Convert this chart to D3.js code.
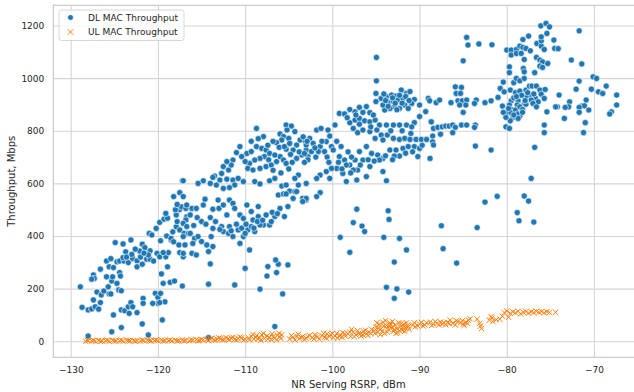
<!DOCTYPE html>
<html>
<head>
<meta charset="utf-8">
<script src="https://cdn.jsdelivr.net/npm/d3@7"></script>
<style>
body { margin: 0; background: #fff; }
text { font-family: "DejaVu Sans", sans-serif; fill: #262626; }
</style>
</head>
<body>
<div id="chart"></div>
<script>
// [RSRP dBm, Mbps]
const dlPoints = [
[-117.2,610],[-117.5,565],[-118.2,550],[-128.9,207],[-128.7,129],[-128.0,119],[-127.6,123],[-127.2,131],[-126.8,122],[-127.4,157],[-126.6,147],[-127.0,187],[-126.5,176],[-126.2,191],[-125.6,180],[-125.4,180],[-125.7,207],[-125.3,229],[-125.9,245],[-125.2,245],[-126.6,274],[-127.4,252],[-127.3,239],[-127.6,236],[-125.9,305],[-125.4,314],[-125.6,283],[-125.1,280],[-124.7,302],[-124.4,305],[-123.9,305],[-124.4,261],[-124.3,248],[-124.7,220],[-124.5,195],[-124.2,192],[-124.9,375],[-124.0,370],[-123.1,385],[-123.7,340],[-124.0,318],[-123.4,299],[-122.9,315],[-122.4,306],[-122.4,283],[-121.8,293],[-122.1,343],[-121.8,369],[-121.5,356],[-121.3,312],[-120.9,312],[-120.5,305],[-120.9,344],[-121.1,328],[-121.0,410],[-120.7,404],[-120.2,429],[-119.8,452],[-119.3,464],[-118.9,468],[-119.1,486],[-119.7,382],[-119.0,400],[-118.5,385],[-118.3,416],[-120.1,334],[-119.8,321],[-119.1,321],[-118.8,337],[-119.4,337],[-118.9,283],[-119.6,256],[-119.4,220],[-118.6,224],[-118.1,229],[-120.3,182],[-120.0,167],[-119.7,182],[-120.0,144],[-119.2,150],[-119.8,147],[-121.7,163],[-121.7,144],[-120.6,144],[-125.1,100],[-124.2,119],[-123.8,116],[-123.4,131],[-123.1,147],[-122.9,131],[-123.3,106],[-122.4,109],[-121.8,66],[-125.3,36],[-124.2,52],[-121.1,24],[-119.5,81],[-128.0,20],[-117.9,480],[-117.5,501],[-117.3,511],[-116.8,505],[-116.7,473],[-117.9,435],[-117.5,423],[-117.0,410],[-116.5,410],[-116.8,461],[-117.1,448],[-118.5,391],[-118.2,378],[-117.6,366],[-117.5,337],[-117.1,321],
[-123.0,330],[-122.6,350],[-122.0,320],[-121.6,335],[-123.6,320],
[-116.3,480],[-115.5,470],[-115.0,455],[-114.5,445],[-114.0,470],[-113.4,455],[-115.9,440],[-117.8,455],[-118.0,500],[-117.8,520],
[-108.7,809],[-107.9,778],[-105.3,822],[-104.7,818],[-105.2,803],[-104.3,797],[-106.0,788],[-105.6,778],[-105.0,771],[-105.8,765],[-104.9,752],[-104.1,746],[-103.7,765],[-103.1,759],[-106.4,755],[-106.1,737],[-105.3,730],[-104.5,727],[-103.0,727],[-103.5,708],[-102.8,702],[-104.1,695],
[-110.6,740],[-111.0,717],[-109.8,714],[-109.3,721],[-108.7,740],[-108.1,733],[-107.6,727],[-107.2,714],[-107.8,702],[-108.3,695],[-108.9,689],[-109.5,676],[-110.0,683],[-110.4,702],[-109.7,657],[-109.1,651],[-108.3,657],[-107.6,664],[-107.0,670],[-106.4,683],[-106.0,702],[-106.6,708],[-105.6,689],[-105.3,676],
[-107.3,690],[-106.8,650],[-105.9,640],[-105.0,655],[-104.6,680],[-103.8,720],[-104.8,710],[-105.5,740],[-106.8,760],[-107.4,745],[-108.5,770],[-109.3,760],
[-112.5,664],[-111.9,651],[-111.4,689],[-111.6,670],[-112.1,683],[-112.7,638],[-113.5,628],[-113.7,623],[-112.9,613],[-112.1,616],[-111.4,613],[-110.8,619],[-110.2,607],[-111.2,594],[-111.8,584],[-112.5,581],[-113.3,594],[-114.0,600],[-114.8,610],[-115.4,600],[-117.1,610],
[-108.9,607],[-108.3,598],[-107.2,610],[-106.6,619],[-105.8,590],[-105.3,594],[-104.9,571],[-104.3,569],[-103.9,594],[-103.0,600],[-103.9,632],[-104.3,619],
[-117.1,550],[-116.7,518],[-116.1,505],[-115.6,505],[-114.8,518],[-114.6,540],[-113.7,502],[-113.0,505],[-112.5,518],[-113.1,537],[-112.1,480],[-111.8,537],[-111.4,524],[-111.2,505],[-110.6,480],[-110.2,467],[-109.8,518],[-109.3,493],[-108.5,512],[-109.1,461],[-108.5,474],[-107.9,442],[-107.6,480],[-107.2,442],[-106.6,474],[-106.0,505],[-105.5,474],[-105.1,512],[-104.5,543],[-104.1,569],[-103.4,543],[-103.0,537],[-106.2,556],[-105.6,560],[-105.3,560],
[-116.7,436],[-117.1,398],[-116.3,410],[-115.8,391],[-115.4,398],[-115.0,379],[-116.0,372],[-116.9,366],[-117.1,334],[-116.1,334],[-115.6,328],[-114.4,366],[-113.7,360],[-114.2,341],[-113.9,398],[-113.7,429],[-112.7,436],[-112.5,417],[-111.9,410],[-111.8,436],[-111.4,398],[-110.8,423],[-110.2,398],[-109.7,423],[-109.3,436],[-108.9,417],[-108.3,442],[-110.6,372],[-109.5,347],[-110.0,277],[-107.4,284],[-106.4,261],[-106.2,293],[-106.5,309],[-105.1,290],[-107.5,248],[-114.0,294],[-114.2,217],[-111.2,214],[-117.2,210],[-108.3,198],[-105.7,180],[-106.6,56],[-114.2,14],
[-111.0,445],[-110.4,430],[-109.9,445],[-109.0,430],[-108.6,455],[-112.9,425],[-111.6,420],[-110.0,410],[-108.0,460],[-107.0,455],[-106.9,490],[-106.3,485],
[-94.95,1079],[-94.95,990],[-95.0,942],[-95.0,911],
[-94.4,923],[-93.8,930],[-93.2,936],[-92.7,932],[-92.1,955],[-91.5,942],[-91.1,949],[-90.6,919],[-90.9,904],[-91.7,898],[-92.3,885],[-92.9,892],[-93.4,885],[-94.0,879],[-93.6,907],[-93.0,911],[-92.5,917],[-91.9,923],[-91.3,885],[-94.2,898],
[-93.9,915],[-93.1,925],[-92.3,935],[-91.6,930],[-92.8,905],[-92.0,905],[-91.2,915],[-93.6,893],[-92.6,880],[-94.1,940],
[-89.0,923],[-90.0,898],[-89.3,873],[-90.0,854],[-90.6,831],[-88.7,835],
[-99.2,866],[-98.6,864],[-98.0,881],[-97.4,872],[-96.9,889],[-96.1,892],[-95.7,869],[-98.0,831],[-97.4,841],[-96.9,847],[-96.3,838],[-95.7,834],[-95.1,841],[-94.6,822],[-93.8,822],[-93.0,822],[-92.3,822],[-91.5,822],[-90.9,815],[-97.6,809],[-97.1,793],[-96.5,803],[-95.7,797],[-94.9,803],[-94.4,784],[-93.7,784],[-93.0,771],[-92.3,767],[-91.7,771],[-91.1,767],[-90.4,767],[-89.8,767],[-89.2,767],[-94.2,765],[-95.1,771],
[-103.35,777],[-102.6,771],[-101.8,803],[-101.3,809],[-100.5,803],[-99.7,822],[-103.0,746],[-102.2,752],[-101.4,740],[-100.7,759],[-100.1,740],[-103.2,714],[-102.4,721],[-101.6,721],[-100.9,721],[-99.9,727],[-99.2,702],[-98.6,689],[-98.0,670],[-97.4,689],[-96.9,721],[-96.1,740],[-95.5,714],[-94.8,708],[-94.2,695],[-93.4,727],[-92.7,727],[-91.9,733],[-91.3,740],[-90.6,740],[-90.0,733],[-90.2,702],[-92.3,704],[-92.9,704],[-94.6,689],[-95.7,664],[-96.5,689],[-97.1,651],[-97.6,651],[-98.4,670],[-98.8,638],[-99.5,657],[-100.1,657],[-100.7,645],[-101.4,632],[-101.8,619],[-100.3,619],[-98.4,607],[-97.2,613],[-96.1,626],[-94.2,645],[-93.8,610],
[-102.9,760],[-102.0,735],[-101.2,760],[-100.3,780],[-99.5,760],[-99.0,740],[-98.2,720],[-97.8,700],[-100.6,700],[-101.9,700],[-102.8,690],[-103.2,680],[-100.4,680],[-99.3,680],[-98.9,655],[-97.9,640],[-96.8,670],[-95.9,690],[-95.2,685],[-93.9,705],[-93.1,690],[-91.6,715],[-90.8,720],[-89.7,745],[-91.0,790],[-92.0,800],[-93.3,800],[-95.6,815],[-96.9,825],[-98.3,850],[-97.3,860],[-96.5,870],[-95.3,860],
[-101.4,565],[-101.8,550],[-103.0,543],[-103.4,531],[-97.2,502],[-97.6,451],[-96.6,438],[-96.3,417],[-93.6,496],[-93.5,463],[-99.1,395],[-94.1,395],[-92.3,391],
[-98.0,338],[-91.5,347],[-92.9,301],[-93.8,205],[-92.6,199],[-92.9,163],[-91.25,187],
[-84.6,1155],[-84.45,1126],[-83.2,1130],[-81.7,1127],[-85.0,1066],
[-88.84,914],[-88.1,907],[-87.7,917],[-86.4,907],[-85.9,967],[-85.2,965],[-85.8,942],[-85.3,942],[-85.6,914],[-85.1,914],[-84.6,917],[-83.5,917],[-83.7,904],[-84.7,898],[-85.4,898],[-85.0,870],[-82.5,907],[-81.8,914],[-80.5,894],[-81.0,927],
[-88.65,834],[-88.4,809],[-87.9,813],[-87.4,815],[-87.0,818],[-86.6,818],[-86.2,822],[-85.9,813],[-85.2,822],[-84.6,822],[-83.6,822],[-83.7,813],[-87.6,787],[-86.2,793],[-88.5,780],[-88.5,758],[-88.4,746],[-88.8,695],[-83.6,742],[-81.8,727],
[-80.0,1107],[-79.5,1107],[-78.9,1109],[-78.5,1122],[-78.15,1117],[-77.8,1113],[-77.3,1104],[-79.5,1088],[-78.9,1094],[-78.35,1094],[-78.0,1071],[-78.15,1147],[-77.5,1160],[-76.55,1132],[-76.05,1122],[-75.7,1109],[-76.6,1079],[-76.2,1069],[-75.9,1062],[-76.1,1199],[-75.5,1208],[-75.1,1195],[-75.4,1170],[-76.05,1142],[-76.05,1157],[-74.6,1145],[-74.5,1113],[-74.1,1112],[-76.2,1046],[-75.3,1056],[-75.9,1041],[-78.1,1037],[-76.8,1021],[-79.7,1043],[-79.7,1021],[-79.2,983],[-78.9,999],[-78.5,990],[-78.0,1024],[-78.0,999],[-80.4,985],[-80.75,961],[-80.3,948],[-79.6,955],[-79.0,945],[-78.5,951],[-77.8,955],[-77.4,970],[-77.1,970],[-76.6,970],[-76.2,955],[-75.6,957],[-76.05,939],[-75.7,923],[-76.7,923],[-77.4,936],[-77.8,929],[-76.4,910],[-77.2,917],[-77.0,904],[-78.0,901],[-78.7,914],[-78.8,898],[-79.5,914],[-79.7,898],[-79.5,881],[-79.9,869],[-79.5,869],[-79.0,879],[-78.5,891],[-78.2,881],[-77.8,901],[-78.5,856],[-78.8,864],[-79.3,851],[-79.6,838],[-80.1,851],[-78.7,847],[-80.1,815],[-79.7,809],[-76.6,891],[-75.4,872],[-75.7,822],[-75.7,793],[-76.8,737],
[-79.2,925],[-78.3,935],[-77.6,945],[-76.9,940],[-78.9,930],[-77.9,915],[-79.2,860],[-78.2,870],[-80.4,870],[-79.8,885],
[-71.7,1180],[-72.6,1069],[-71.4,1054],[-70.1,1005],[-69.7,999],[-71.7,989],[-72.05,958],[-70.3,958],[-70.9,917],[-71.4,894],[-71.1,895],[-71.7,889],[-71.7,870],[-72.8,910],[-72.9,891],[-73.3,889],[-74.0,936],[-74.2,891],[-74.4,891],[-73.4,847],[-70.6,879],[-71.0,831],[-71.2,793],[-69.5,948],[-69.0,942],[-68.6,970],[-67.4,936],[-67.4,898],[-68.0,872],[-68.2,864],
[-87.5,439],[-87.3,352],[-85.75,297],[-83.4,432],[-82.5,529],[-81.1,551],[-78.8,489],[-78.6,458],[-78.0,552],[-77.5,533],[-76.9,453],[-77.2,619]
];

const ulPoints = [
[-128.3,0],[-128.0,2],[-127.6,1],[-127.2,0],[-126.8,3],[-126.4,1],[-126.0,2],[-125.6,0],[-125.2,3],[-124.8,1],[-124.4,2],[-124.0,0],[-123.6,4],[-123.2,1],[-122.8,2],[-122.4,3],[-122.0,1],[-121.6,2],[-121.2,4],[-120.8,1],[-120.4,3],[-120.0,2],[-119.6,5],[-119.2,2],[-118.8,3],[-118.4,1],[-118.0,4],[-117.6,2],[-117.2,5],[-116.8,3],[-116.4,2],[-116.0,4],[-115.6,6],[-115.2,3],[-114.8,5],
[-128.1,4],[-127.4,3],[-126.6,0],[-125.8,4],[-125.0,1],[-124.2,4],[-123.4,2],[-122.6,0],[-121.8,4],[-121.0,2],[-120.2,5],[-119.4,1],[-118.6,5],[-117.8,1],[-117.0,2],[-116.2,6],[-115.4,2],[-115.0,7],
[-114.4,6],[-114.0,9],[-113.6,5],[-113.2,8],[-112.8,10],[-112.4,6],[-112.0,9],[-111.6,12],[-111.2,7],[-110.8,10],[-110.4,13],[-110.0,8],
[-114.2,3],[-113.8,12],[-113.4,4],[-113.0,13],[-112.6,5],[-112.2,14],[-111.8,6],[-111.4,15],[-111.0,5],[-110.6,16],[-110.2,4],
[-109.6,12],[-109.3,18],[-109.0,9],[-108.7,22],[-108.4,14],[-108.1,25],[-107.8,10],[-107.5,20],[-107.2,15],[-106.9,28],[-106.6,12],[-106.3,22],[-106.0,18],[-105.8,25],[-108.5,8],[-107.0,6],
[-109.5,5],[-109.1,26],[-108.8,15],[-108.2,5],[-107.9,30],[-107.4,8],[-106.8,18],[-106.4,5],[-106.1,30],[-105.9,10],
[-104.9,8],[-104.5,15],[-104.1,20],[-103.8,10],[-103.4,18],[-103.0,12],[-102.6,22],[-102.3,14],[-102.0,25],[-101.7,16],[-101.5,8],
[-104.7,22],[-104.3,5],[-103.9,26],[-103.6,14],[-103.2,6],[-102.8,18],[-102.1,8],[-101.9,20],
[-101.2,22],[-100.9,15],[-100.6,28],[-100.3,18],[-100.0,30],[-99.7,20],[-99.4,12],[-99.1,25],[-98.8,33],[-98.5,20],[-97.8,45],
[-101.0,30],[-100.7,12],[-100.2,25],[-99.9,14],[-99.5,30],[-99.2,18],[-98.9,15],[-98.6,28],
[-98.2,28],[-97.9,18],[-97.6,35],[-97.3,24],[-97.0,30],[-96.7,20],[-96.4,38],[-96.1,28],[-95.8,34],[-95.5,45],
[-98.0,35],[-97.5,18],[-97.1,40],[-96.8,28],[-96.5,24],[-96.2,42],[-95.9,22],[-95.6,30],
[-95.2,40],[-95.0,55],[-94.8,35],[-94.6,65],[-94.4,48],[-94.2,72],[-94.0,30],[-93.8,60],[-93.6,45],[-93.4,70],[-93.2,52],[-93.0,38],[-92.8,62],[-92.6,48],[-92.4,70],[-92.2,55],[-92.0,42],[-91.8,65],[-91.6,50],[-91.4,60],[-91.2,45],[-94.5,25],[-93.5,58],[-92.5,33],
[-95.1,30],[-94.9,70],[-94.7,50],[-94.3,38],[-94.1,58],[-93.9,78],[-93.7,35],[-93.3,62],[-93.1,75],[-92.9,45],[-92.7,30],[-92.3,40],[-92.1,68],[-91.9,52],[-91.7,38],[-91.5,70],[-91.3,55],
[-90.8,62],[-90.5,55],[-90.0,65],[-89.6,58],[-89.2,70],[-88.8,72],[-88.4,66],[-88.0,68],[-87.6,73],[-87.2,70],[-86.8,72],[-86.5,80],[-86.2,68],[-85.9,62],[-85.6,75],[-85.3,70],[-85.0,66],[-84.7,72],[-84.4,80],[-84.2,85],[-83.4,84],[-83.1,68],[-82.9,48],[-83.0,58],
[-90.6,70],[-90.2,58],[-89.8,72],[-89.4,62],[-88.6,60],[-88.2,75],[-87.8,62],[-87.4,66],[-87.0,63],[-86.6,68],[-85.8,78],[-85.1,78],[-84.9,60],[-84.5,68],
[-82.0,80],[-81.8,94],[-81.7,88],[-81.6,75],[-81.2,82],[-80.8,84],[-80.5,95],
[-80.3,109],[-80.0,115],[-79.8,91],[-79.6,106],[-79.3,112],[-79.0,108],[-78.7,114],[-78.4,104],[-78.1,110],[-77.8,113],[-77.5,107],[-77.2,112],[-76.9,109],[-76.6,114],[-76.3,110],[-76.0,113],[-75.7,108],[-75.4,112],[-75.1,110],[-74.4,110]
];

const xTicks = [-130, -120, -110, -100, -90, -80, -70];
const yTicks = [0, 200, 400, 600, 800, 1000, 1200];
const seriesNames = ["DL MAC Throughput", "UL MAC Throughput"];
const seriesColors = ["#1f77b4", "#ff7f0e"];

const width = 634, height = 392;
const plotL = 53.3, plotR = 643.7, plotT = 5.3, plotB = 357.3;
const gridColor = "#d5d5d5";
const xMark = "M-2.7,-2.7L2.7,2.7M-2.7,2.7L2.7,-2.7";

var svg = d3.select("#chart")
    .append("svg")
    .attr("width", width)
    .attr("height", height)

var x = d3.scaleLinear().domain([-132, -64.3]).range([plotL, plotR]);
var y = d3.scaleLinear().domain([-61, 1277]).range([plotB, plotT]);

// grid lines come from the axis ticks
var xAxis = svg.append("g")
    .attr("transform", "translate(0," + plotB + ")")
    .call(d3.axisBottom(x).tickValues(xTicks).tickSize(-(plotB - plotT)).tickPadding(9.5))
xAxis.select(".domain").remove()
xAxis.selectAll("line").attr("stroke", gridColor).attr("stroke-width", 1.1)
xAxis.selectAll("text").style("font-size", "9px").attr("fill", "#262626")

var yAxis = svg.append("g")
    .attr("transform", "translate(" + plotL + ",0)")
    .call(d3.axisLeft(y).tickValues(yTicks).tickFormat(d3.format("d")).tickSize(-(plotR - plotL)).tickPadding(9))
yAxis.select(".domain").remove()
yAxis.selectAll("line").attr("stroke", gridColor).attr("stroke-width", 1.1)
yAxis.selectAll("text").style("font-size", "9px").attr("fill", "#262626")

// frame
svg.append("rect")
    .attr("x", plotL)
    .attr("y", plotT)
    .attr("width", plotR - plotL)
    .attr("height", plotB - plotT)
    .attr("fill", "none")
    .attr("stroke", "#cccccc")
    .attr("stroke-width", 1.25)

svg.selectAll("circle.dl")
    .data(dlPoints)
    .enter()
    .append("circle")
    .attr("class", "dl")
    .attr("cx", d => x(d[0]))
    .attr("cy", d => y(d[1]))
    .attr("r", 3.1)
    .attr("fill", seriesColors[0])
    .attr("stroke", "white")
    .attr("stroke-width", 0.6)

svg.selectAll("path.ul")
    .data(ulPoints)
    .enter()
    .append("path")
    .attr("class", "ul")
    .attr("d", xMark)
    .attr("transform", d => "translate(" + x(d[0]) + "," + y(d[1]) + ")")
    .attr("fill", "none")
    .attr("stroke", seriesColors[1])
    .attr("stroke-width", 1)

// axis titles
svg.append("text")
    .attr("x", (plotL + plotR) / 2)
    .attr("y", 387.5)
    .attr("text-anchor", "middle")
    .style("font-size", "10px")
    .text("NR Serving RSRP, dBm")

svg.append("text")
    .attr("transform", "translate(15," + ((plotT + plotB) / 2) + ") rotate(-90)")
    .attr("text-anchor", "middle")
    .style("font-size", "10px")
    .text("Throughput, Mbps")

// legend
var legend = svg.append("g")
legend.append("rect")
    .attr("x", 59)
    .attr("y", 10)
    .attr("width", 125)
    .attr("height", 30.5)
    .attr("rx", 2.5)
    .attr("fill", "white")
    .attr("fill-opacity", 0.8)
    .attr("stroke", "#cccccc")
    .attr("stroke-width", 0.8)

legend.append("circle")
    .attr("cx", 70.5)
    .attr("cy", 17.5)
    .attr("r", 2.8)
    .attr("fill", seriesColors[0])
    .attr("stroke", "white")
    .attr("stroke-width", 0.5)

legend.append("path")
    .attr("d", xMark)
    .attr("transform", "translate(70.5,32)")
    .attr("fill", "none")
    .attr("stroke", seriesColors[1])
    .attr("stroke-width", 1)

legend.selectAll("text")
    .data(seriesNames)
    .enter()
    .append("text")
    .attr("x", 88)
    .attr("y", (d, i) => 17.5 + i * 14.5 + 3.3)
    .style("font-size", "9px")
    .text(d => d)
</script>
</body>
</html>
